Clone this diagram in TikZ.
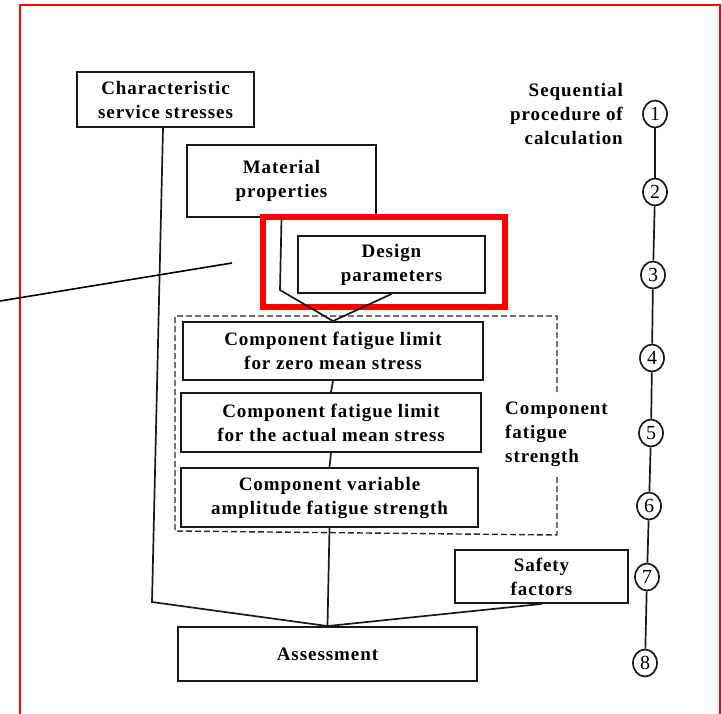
\documentclass[tikz,border=0pt]{standalone}
\usepackage{fontspec}
\setmainfont{Liberation Serif}[LetterSpace=5]
\usetikzlibrary{shapes.geometric}
\begin{document}
\begin{tikzpicture}[x=1pt,y=-1pt,
  box/.style={draw=black!90, line width=1.9pt, inner sep=0pt, align=center,
    font=\fontsize{19}{24}\selectfont\bfseries},
  link/.style={draw=black!90, line width=1.7pt},
  plaintext/.style={inner sep=0pt, font=\fontsize{19}{24}\selectfont\bfseries},
  stepnum/.style={draw=black!90, line width=1.7pt, ellipse, minimum width=24pt,
    minimum height=27pt, inner sep=0pt, font=\fontsize{20}{20}\selectfont},
  frame/.style={draw=red, line width=2pt},
  highlight/.style={draw=red, line width=5.5pt},
]
\useasboundingbox (0,0) rectangle (722,713);

% outer red frame (open at the bottom)
\draw[frame] (20,716) -- (20,5) -- (720,5) -- (720,716);

% boxes
\node[box, minimum width=177pt, minimum height=55pt] (char) at (165.5,99.5)
  {Characteristic\\service stresses};
\node[box, minimum width=189pt, minimum height=72pt] (mat) at (281.5,181)
  {Material\\properties};
\node[box, minimum width=187pt, minimum height=57pt] (des) at (391.5,264.5)
  {Design\\parameters};
\node[box, minimum width=300pt, minimum height=58pt] (zero) at (333,351)
  {Component fatigue limit\\for zero mean stress};
\node[box, minimum width=300pt, minimum height=59pt] (actual) at (331,422.5)
  {Component fatigue limit\\for the actual mean stress};
\node[box, minimum width=297pt, minimum height=59pt] (var) at (329.5,497.5)
  {Component variable\\amplitude fatigue strength};
\node[box, minimum width=173pt, minimum height=53pt] (safety) at (541.5,576.5)
  {Safety\\factors};
\node[box, minimum width=299pt, minimum height=54pt] (assess) at (327.5,654)
  {Assessment};

% red highlight around the design parameters
\draw[highlight] (263,217) rectangle (505,307);

% dashed grouping of the component fatigue strength steps
\draw[draw=black!85, line width=1.4pt, dash pattern=on 6pt off 3pt]
  (557,392) -- (557,316) -- (175,316) -- (175,531) -- (557,535) -- (557,477);
\node[plaintext, align=left, anchor=west] (cfs) at (505,434)
  {Component\\fatigue\\strength};

% connectors
\coordinate (kM) at (280,290);
\coordinate (kC) at (152,602);
\draw[link] (mat.south) -- (kM) -- (zero.north);
\draw[link] (des.south) -- (zero.north);
\draw[link] (zero.south) -- (actual.north);
\draw[link] (actual.south) -- (var.north);
\draw[link] (var.south) -- (assess.north);
\draw[link] ([xshift=-2.5pt]char.south) -- (kC) -- (assess.north);
\draw[link] (safety.south) -- (assess.north);

% pointer line
\coordinate (pin) at (0,301);
\coordinate (ptip) at (232,263);
\draw[black, line width=1.6pt] (pin) -- (ptip);

% sequential procedure scale
\node[plaintext, align=right, anchor=east] (seq) at (623,114)
  {Sequential\\procedure of\\calculation};
\node[stepnum] (c1) at (655,114) {1};
\node[stepnum] (c2) at (655,192) {2};
\node[stepnum] (c3) at (653,275) {3};
\node[stepnum] (c4) at (652,358) {4};
\node[stepnum] (c5) at (651,433) {5};
\node[stepnum] (c6) at (649,506) {6};
\node[stepnum] (c7) at (647,577) {7};
\node[stepnum] (c8) at (645,663) {8};
\foreach \a/\b in {c1/c2,c2/c3,c3/c4,c4/c5,c5/c6,c6/c7,c7/c8}
  \draw[link] (\a) -- (\b);
\end{tikzpicture}
\end{document}
